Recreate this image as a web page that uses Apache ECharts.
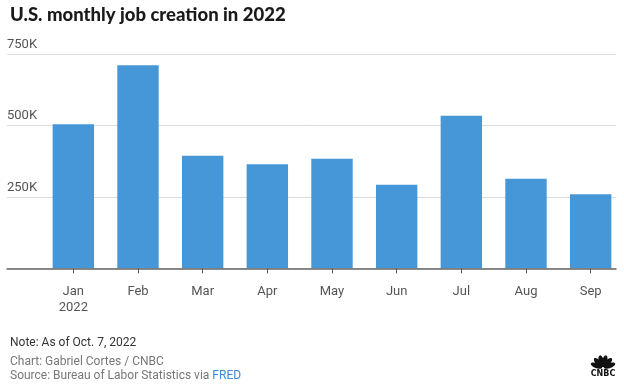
<!DOCTYPE html>
<html>
<head>
<meta charset="utf-8">
<script src="https://cdn.jsdelivr.net/npm/echarts@6/dist/echarts.min.js"></script>
<style>html,body{margin:0;padding:0;background:#fff}#c{width:624px;height:386px}</style>
</head>
<body>
<div id="c"></div>
<script>
var categories = ['Jan\n2022', 'Feb', 'Mar', 'Apr', 'May', 'Jun', 'Jul', 'Aug', 'Sep'];
var jobsAdded = [504, 711, 394, 364, 383, 292, 534, 313, 259]; // thousands
var yTicks = [0, 250, 500, 750];
var yTickLabels = ['', '250K', '500K', '750K'];

var chart = echarts.init(document.getElementById('c'));
var font = 'Roboto, "Open Sans", sans-serif';
var feathers = [-70, -42, -14, 14, 42, 70];
var logoChildren = feathers.map(function (a) {
  return {
    type: 'ellipse',
    x: 603, y: 368,
    rotation: -a * Math.PI / 180,
    shape: { cx: 0, cy: -7, rx: 2.6, ry: 6 },
    style: { fill: '#111' }
  };
});
logoChildren.push({
  type: 'text', x: 603, y: 374,
  style: { text: 'CNBC', fill: '#111', font: 'bold 8px "DejaVu Sans", sans-serif', align: 'center', verticalAlign: 'middle' }
});

chart.setOption({
  animation: false,
  backgroundColor: '#fff',
  title: [
    { text: 'U.S. monthly job creation in 2022', left: 5, top: 1,
      textStyle: { fontFamily: 'Lato, sans-serif', fontWeight: 900, fontSize: 18.5, color: '#1a1a1a' } },
    { text: 'Note: As of Oct. 7, 2022', left: 5, top: 332,
      textStyle: { fontFamily: font, fontWeight: 400, fontSize: 12, color: '#333' } },
    { text: 'Chart: Gabriel Cortes / CNBC', left: 5, top: 351,
      textStyle: { fontFamily: font, fontWeight: 400, fontSize: 12, color: '#777' } },
    { text: '{a|Source: Bureau of Labor Statistics via }{b|FRED}', left: 5, top: 365,
      textStyle: { fontWeight: 400, rich: {
        a: { fontFamily: font, fontWeight: 400, fontSize: 12, color: '#777' },
        b: { fontFamily: font, fontWeight: 400, fontSize: 12, color: '#3a8ad6' } } } }
  ],
  grid: [
    { left: 7, right: 8, top: 54, bottom: 117.7 },
    { left: 41, right: 1, top: 54, bottom: 117.7 }
  ],
  xAxis: [
    { type: 'value', gridIndex: 0, min: 0, max: 1, z: 5,
      axisLine: { show: true, onZero: false, lineStyle: { color: '#666', width: 1.5 } },
      axisTick: { show: false }, axisLabel: { show: false }, splitLine: { show: false } },
    { type: 'category', gridIndex: 1, data: categories,
      axisLine: { show: false },
      axisTick: { show: true, alignWithLabel: true, length: 5, lineStyle: { color: '#555', width: 1 } },
      axisLabel: { margin: 15, fontFamily: font, fontSize: 13, color: '#555', lineHeight: 16 } }
  ],
  yAxis: [
    { type: 'value', gridIndex: 0, min: 0, max: 750, interval: 250,
      axisLine: { show: false }, axisTick: { show: false },
      splitLine: { lineStyle: { color: '#dcdcdc', width: 1 } },
      axisLabel: { inside: true, margin: 0, verticalAlign: 'bottom', padding: [0, 0, 3, 0],
        fontFamily: font, fontSize: 13, color: '#555',
        formatter: function (v) { var i = yTicks.indexOf(v); return i >= 0 ? yTickLabels[i] : ''; } } },
    { type: 'value', gridIndex: 1, min: 0, max: 750, show: false }
  ],
  series: [{
    type: 'bar', xAxisIndex: 1, yAxisIndex: 1, data: jobsAdded,
    barWidth: '64%', itemStyle: { color: '#4597d7' }
  }],
  graphic: [{ type: 'group', children: logoChildren }]
});
</script>
</body>
</html>
